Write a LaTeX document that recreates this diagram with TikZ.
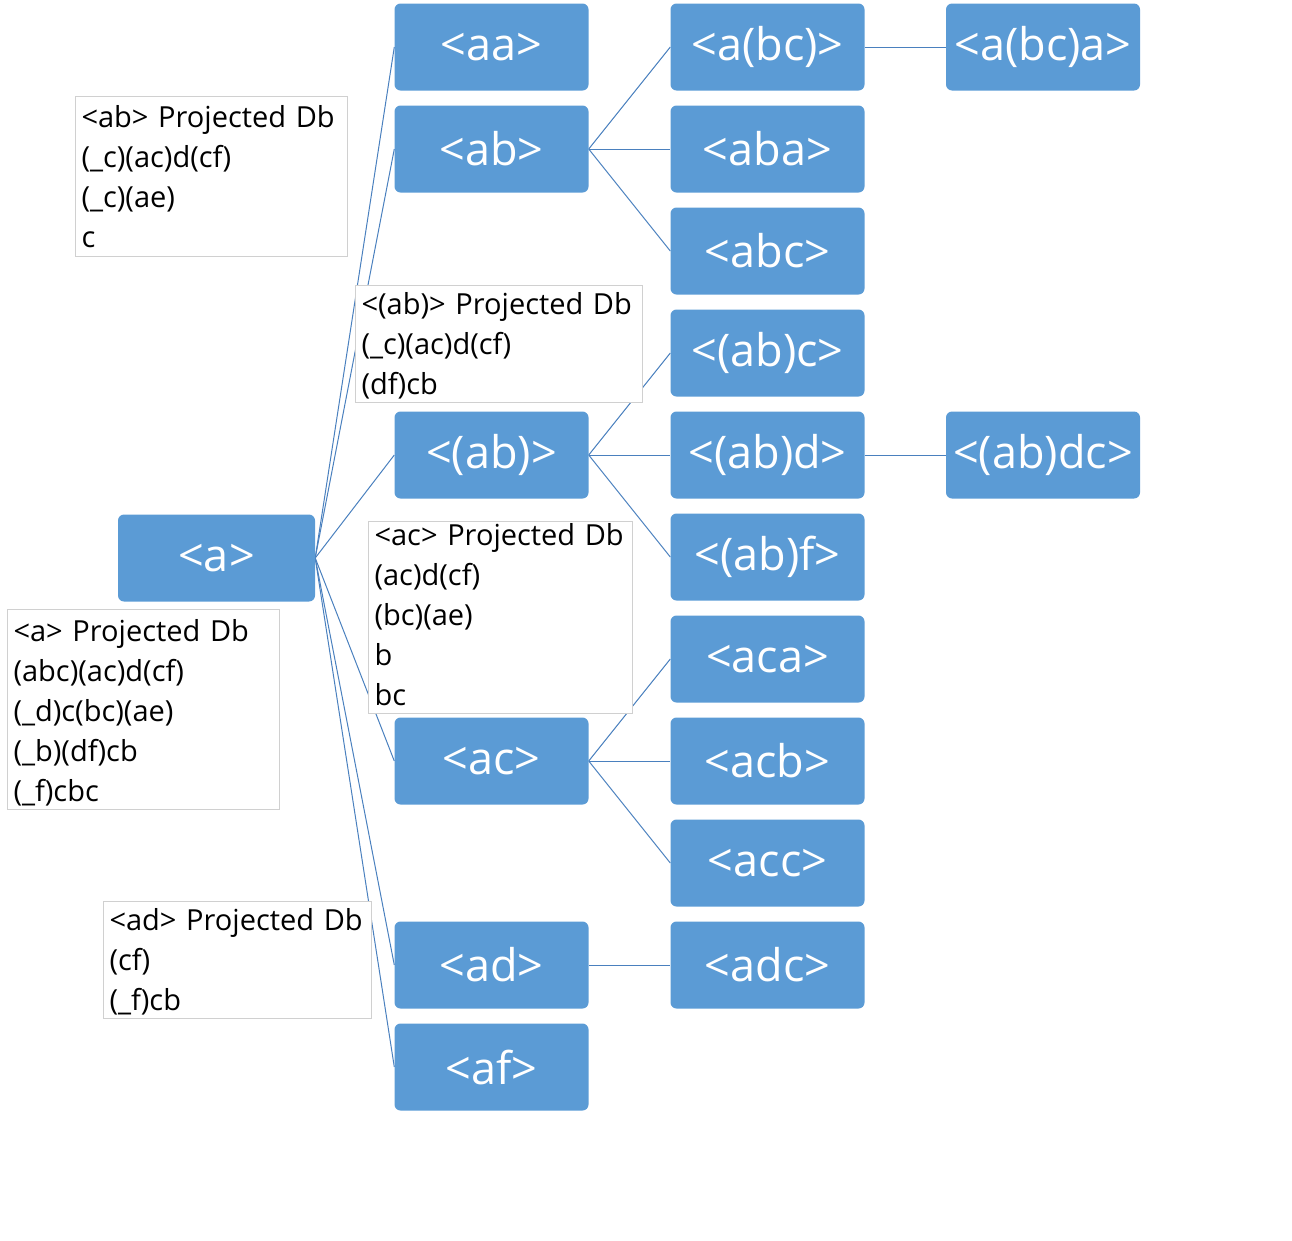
\documentclass[tikz,border=0pt]{standalone}
\usepackage{fontspec}
\setmainfont{Open Sans}
\usetikzlibrary{backgrounds}
\definecolor{boxblue}{HTML}{5B9BD5}
\definecolor{linkblue}{HTML}{4A80BE}
\definecolor{dbgray}{HTML}{D0D0D0}
\tikzset{
  seq/.style={fill=boxblue, rounded corners=6pt, minimum width=194pt, minimum height=87pt,
    inner sep=0pt, text=white, font=\fontsize{45}{50}\selectfont},
  link/.style={draw=linkblue, line width=1pt},
  db/.style={draw=dbgray, fill=white, line width=1pt, anchor=north west, align=left,
    inner xsep=6pt, inner ysep=0pt, font=\fontsize{29}{40}\selectfont},
}
\begin{document}
\begin{tikzpicture}[x=1pt,y=-1pt]
\path[use as bounding box] (0,0) rectangle (1292,1240);
% root
\node[seq, minimum width=197pt] (a) at (216.5,558) {<a>};
% column 2
\node[seq] (aa)  at (491.5,47)   {<aa>};
\node[seq] (ab)  at (491.5,149)  {<ab>};
\node[seq] (pab) at (491.5,455)  {<(ab)>};
\node[seq] (ac)  at (491.5,761)  {<ac>};
\node[seq] (ad)  at (491.5,965)  {<ad>};
\node[seq] (af)  at (491.5,1067) {<af>};
% column 3
\node[seq] (abc1) at (767.5,47)  {<a(bc)>};
\node[seq] (aba)  at (767.5,149) {<aba>};
\node[seq] (abc)  at (767.5,251) {<abc>};
\node[seq] (pabc) at (767.5,353) {<(ab)c>};
\node[seq] (pabd) at (767.5,455) {<(ab)d>};
\node[seq] (pabf) at (767.5,557) {<(ab)f>};
\node[seq] (aca)  at (767.5,659) {<aca>};
\node[seq] (acb)  at (767.5,761) {<acb>};
\node[seq] (acc)  at (767.5,863) {<acc>};
\node[seq] (adc)  at (767.5,965) {<adc>};
% column 4
\node[seq] (abca)  at (1043,47)  {<a(bc)a>};
\node[seq] (pabdc) at (1043,455) {<(ab)dc>};
% connectors
\begin{scope}[on background layer]
\foreach \c in {aa,ab,pab,ac,ad,af}{\draw[link] (a.east) -- (\c.west);}
\foreach \c in {abc1,aba,abc}{\draw[link] (ab.east) -- (\c.west);}
\foreach \c in {pabc,pabd,pabf}{\draw[link] (pab.east) -- (\c.west);}
\foreach \c in {aca,acb,acc}{\draw[link] (ac.east) -- (\c.west);}
\draw[link] (ad.east) -- (adc.west);
\draw[link] (abc1.east) -- (abca.west);
\draw[link] (pabd.east) -- (pabdc.west);
\end{scope}
% projected databases
\node[db, text width=260pt] (dbab) at (75,96)
  {\rule{0pt}{31pt}<ab> Projected Db\\(\_c)(ac)d(cf)\\(\_c)(ae)\\c\rule[-9pt]{0pt}{9pt}};
\node[db, text width=275pt] (dbpab) at (355,285)
  {\rule{0pt}{29pt}<(ab)> Projected Db\\(\_c)(ac)d(cf)\\(df)cb\rule[-8pt]{0pt}{8pt}};
\node[db, text width=252pt] (dbac) at (368,521)
  {\rule{0pt}{24pt}<ac> Projected Db\\(ac)d(cf)\\(bc)(ae)\\b\\bc\rule[-8pt]{0pt}{8pt}};
\node[db, text width=260pt] (dba) at (7,609)
  {\rule{0pt}{32pt}<a> Projected Db\\(abc)(ac)d(cf)\\(\_d)c(bc)(ae)\\(\_b)(df)cb\\(\_f)cbc\rule[-8pt]{0pt}{8pt}};
\node[db, text width=256pt] (dbad) at (103,901)
  {\rule{0pt}{29pt}<ad> Projected Db\\(cf)\\(\_f)cb\rule[-8pt]{0pt}{8pt}};
\end{tikzpicture}
\end{document}
